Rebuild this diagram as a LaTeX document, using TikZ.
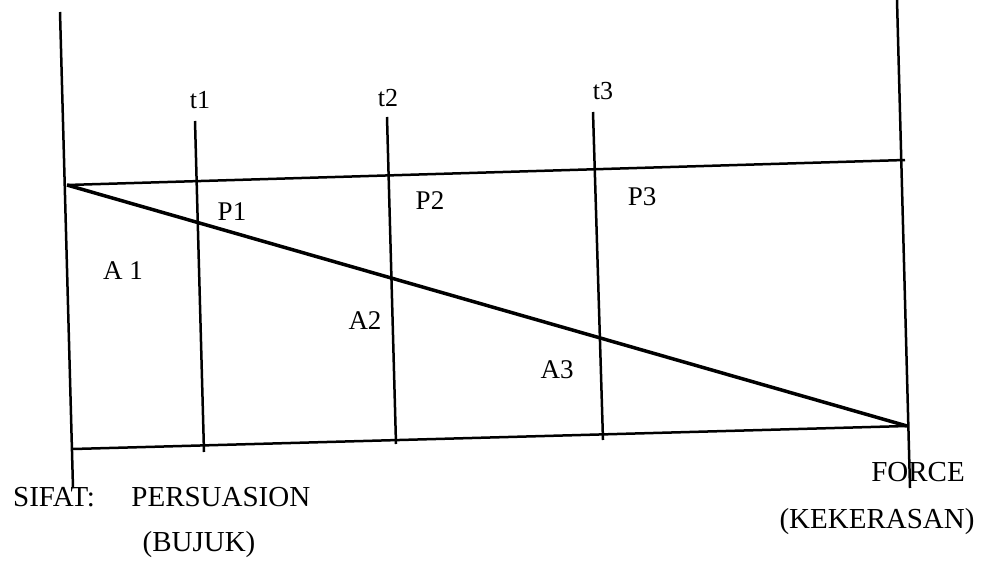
\documentclass[tikz,border=0pt]{standalone}
\usepackage{fontspec}
\setmainfont{Liberation Serif}
\usetikzlibrary{positioning}

\begin{document}
\begin{tikzpicture}[x=1pt,y=-1pt,
  node distance=36pt,
  rule/.style={draw=black,line width=2.5pt},
  slope/.style={draw=black,line width=3.5pt},
  lbl/.style={inner sep=0pt,font=\fontsize{27}{30}\selectfont},
  tlbl/.style={inner sep=0pt,font=\fontsize{26}{28}\selectfont},
  caption/.style={inner sep=0pt,font=\fontsize{29}{32}\selectfont}
]
\useasboundingbox (0,0) rectangle (987,567);
% corners of the frame
\coordinate (lt) at (60,12);
\coordinate (lb) at (73,488);
\coordinate (rt) at (897,0);
\coordinate (rb) at (910,488);
\coordinate (tl) at (67,185);
\coordinate (tr) at (905,160);
\coordinate (bl) at (73,449);
\coordinate (br) at (907,426);
% time lines
\coordinate (t1top) at (195,121);
\coordinate (t1bot) at (204,452);
\coordinate (t2top) at (387,117);
\coordinate (t2bot) at (396,444);
\coordinate (t3top) at (593,112);
\coordinate (t3bot) at (603,440);

\draw[rule] (lt) -- (lb);
\draw[rule] (rt) -- (rb);
\draw[rule] (tl) -- (tr);
\draw[rule] (bl) -- (br);
\draw[rule] (t1top) -- (t1bot);
\draw[rule] (t2top) -- (t2bot);
\draw[rule] (t3top) -- (t3bot);
\draw[slope] (tl) -- (br);

\node[tlbl] (t1) at (200,100) {t1};
\node[tlbl] (t2) at (388,98) {t2};
\node[tlbl] (t3) at (603,91) {t3};

\node[lbl] (p1) at (232,212) {P1};
\node[lbl] (p2) at (430,201) {P2};
\node[lbl] (p3) at (642,197) {P3};
\node[lbl] (a1) at (123,271) {A 1};
\node[lbl] (a2) at (365,321) {A2};
\node[lbl] (a3) at (557,370) {A3};

\node[caption,anchor=west] (sifat) at (13,497) {SIFAT:};
\node[caption,right=of sifat] (persuasion) {PERSUASION};
\node[caption] (bujuk) at (199,545) {(BUJUK)};
\node[caption] (force) at (918,472) {FORCE};
\node[caption] (kekerasan) at (877,522) {(KEKERASAN)};
\end{tikzpicture}
\end{document}
